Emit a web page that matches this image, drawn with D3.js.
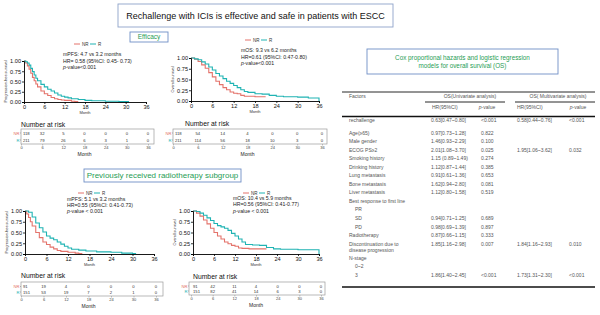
<!DOCTYPE html>
<html>
<head>
<meta charset="utf-8">
<script src="https://cdn.jsdelivr.net/npm/d3@7"></script>
<style>
  body { margin: 0; background: #fff; }
  svg { display: block; font-family: Arial, "Liberation Sans", sans-serif; }
</style>
</head>
<body>
<div id="chart"></div>
<script>
// ---- data ----
var monthTicks = [0, 6, 12, 18, 24, 30, 36];
var survTicks = [0, 0.25, 0.5, 0.75, 1];

// Kaplan-Meier steps: [month, survival]
var pfsNR = [[0,1],[0.5,0.95],[1,0.88],[1.5,0.8],[2,0.7],[2.5,0.6],[3,0.52],[3.5,0.44],[4,0.37],[5,0.27],[6,0.2],[7,0.16],[8,0.11],[9,0.08],[10,0.06],[11,0.05],[12,0.04],[14,0.02],[15,0.01],[16,0.01]];
var pfsR  = [[0,1],[0.5,0.98],[1,0.95],[1.5,0.9],[2,0.82],[2.5,0.74],[3,0.66],[3.5,0.58],[4,0.52],[5,0.43],[6,0.37],[7,0.31],[8,0.27],[9,0.22],[10,0.17],[11,0.14],[12,0.12],[13,0.1],[14,0.08],[16,0.06],[18,0.04],[20,0.03],[24,0.02],[28,0.01],[31,0.01]];
var osNR  = [[0,1],[1,0.97],[2,0.92],[3,0.84],[4,0.76],[5,0.66],[6,0.56],[7,0.46],[8,0.38],[9,0.31],[10,0.26],[11,0.21],[12,0.18],[13,0.17],[14,0.13],[15,0.11],[18,0.1],[21,0.1]];
var osR   = [[0,1],[1,0.98],[2,0.96],[3,0.91],[4,0.86],[5,0.79],[6,0.72],[7,0.64],[8,0.58],[9,0.52],[10,0.46],[11,0.41],[12,0.36],[13,0.31],[14,0.26],[15,0.22],[16,0.2],[18,0.17],[20,0.16],[22,0.13],[24,0.11],[26,0.1],[30,0.09],[33,0.07],[35.8,0.07],[36,0]];
var pfsRtNR = [[0,1],[0.5,0.93],[1,0.85],[1.5,0.75],[2,0.65],[3,0.5],[4,0.38],[5,0.28],[6,0.22],[7,0.16],[8,0.12],[9,0.08],[10,0.06],[12,0.04],[14,0.02],[15,0.01],[16,0.01]];
var pfsRtR  = [[0,1],[1,0.97],[2,0.86],[3,0.72],[4,0.61],[5,0.51],[6,0.42],[7,0.37],[8,0.33],[9,0.28],[10,0.23],[11,0.18],[12,0.14],[13,0.11],[15,0.09],[17,0.07],[20,0.05],[24,0.04],[27,0.02],[30,0.01],[31,0.01]];
var osRtNR = [[0,1],[1,0.95],[2,0.88],[3,0.79],[4,0.7],[5,0.6],[6,0.5],[7,0.42],[8,0.35],[9,0.28],[10,0.24],[11,0.2],[12,0.18],[13,0.14],[14,0.13],[16,0.12],[21,0.12]];
var osRtR  = [[0,1],[1,0.99],[2,0.95],[3,0.9],[4,0.84],[5,0.78],[6,0.71],[7,0.66],[8,0.63],[9,0.6],[10,0.55],[11,0.48],[12,0.42],[13,0.35],[14,0.28],[15,0.22],[17,0.21],[19,0.2],[21,0.15],[23,0.12],[25,0.11],[30,0.1],[35.8,0.1],[36,0]];

// numbers at risk at months 0,6,...,36
var riskPfsNR = [118, 32, 5, 0, 0, 0, 0];
var riskPfsR  = [211, 79, 26, 6, 3, 1, 0];
var riskOsNR  = [118, 54, 14, 4, 0, 0, 0];
var riskOsR   = [211, 114, 56, 18, 10, 3, 0];
var riskPfsRtNR = [91, 19, 4, 0, 0, 0, 0];
var riskPfsRtR  = [151, 53, 19, 7, 2, 1, 0];
var riskOsRtNR  = [91, 42, 11, 4, 0, 0, 0];
var riskOsRtR   = [151, 82, 41, 14, 6, 3, 0];

// Cox table
var factors = ["rechallenge", "Age(≥65)", "Male gender", "ECOG PS≥2", "Smoking history", "Drinking history",
  "Lung metastasis", "Bone metastasis", "Liver metastasis", "Best response to first line", "PR", "SD", "PD",
  "Radiotherapy", "Discontinuation due to", "disease progression", "N-stage", "0~2", "3"];
var uniHR = ["0.63[0.47~0.80]", "0.97[0.73~1.28]", "1.46[0.93~2.29]", "2.01[1.08~3.70]", "1.15 (0.89~1.49)", "1.12[0.87~1.44]",
  "0.91[0.61~1.36]", "1.62[0.94~2.80]", "1.12[0.80~1.58]", "", "", "0.94[0.71~1.25]", "0.98[0.69~1.39]",
  "0.87[0.66~1.15]", "1.85[1.16~2.98]", "", "", "", "1.86[1.40~2.45]"];
var uniP = ["<0.001", "0.822", "0.100", "0.025", "0.274", "0.385", "0.653", "0.081", "0.519", "", "", "0.689", "0.897",
  "0.333", "0.007", "", "", "", "<0.001"];
var multiHR = ["0.58[0.44~0.76]", "", "", "1.95[1.06~3.62]", "", "", "", "", "", "", "", "", "",
  "", "1.84[1.16~2.93]", "", "", "", "1.73[1.31~2.30]"];
var multiP = ["<0.001", "", "", "0.032", "", "", "", "", "", "", "", "", "",
  "", "0.010", "", "", "", "<0.001"];
var indented = ["PR", "SD", "PD", "0~2", "3"];

var colNR = "#e4736b", colR = "#1fb3b3", green = "#1f9d55", boxBlue = "#6f8fc6";

var svg = d3.select("#chart").append("svg").attr("width", 600).attr("height", 315);

// title and section boxes
function labelBox(x, y, w, h, lines, size, color, stroke) {
  svg.append("rect").attr("x", x).attr("y", y).attr("width", w).attr("height", h)
    .attr("fill", "#fff").attr("stroke", stroke).attr("stroke-width", 0.9);
  var step = size * 1.3;
  var y0 = y + h / 2 - (lines.length - 1) * step / 2 + size * 0.35;
  lines.forEach(function(t, i) {
    svg.append("text").attr("x", x + w / 2).attr("y", y0 + i * step)
      .attr("text-anchor", "middle").attr("font-size", size).attr("fill", color).text(t);
  });
}
labelBox(118, 4, 275, 23, ["Rechallenge with ICIs is effective and safe in patients with ESCC"], 9, "#111", "#8ea3c9");
labelBox(130, 32, 38, 10, ["Efficacy"], 6.5, green, boxBlue);
labelBox(84, 169, 157, 13, ["Previously received radiotherapy subgroup"], 8, green, boxBlue);
labelBox(367, 49, 191, 25, ["Cox proportional hazards and logistic regression", "models for overall survival (OS)"], 6.3, green, boxBlue);

// ---- Kaplan-Meier panel ----
function drawKM(p) {
  var x = d3.scaleLinear().domain([0, 36]).range([p.x0, p.x1]);
  var y = d3.scaleLinear().domain([0, 1]).range([p.yBot, p.yTop]);
  var g = svg.append("g");

  var line = d3.line().x(d => x(d[0])).y(d => y(d[1])).curve(d3.curveStepAfter);
  g.append("path").datum(p.nr).attr("d", line).attr("fill", "none").attr("stroke", colNR).attr("stroke-width", 1.1);
  g.append("path").datum(p.r).attr("d", line).attr("fill", "none").attr("stroke", colR).attr("stroke-width", 1.1);

  var xa = g.append("g").attr("transform", `translate(0,${p.yBot})`)
    .call(d3.axisBottom(x).tickValues(monthTicks).tickSize(2).tickPadding(1));
  var ya = g.append("g").attr("transform", `translate(${p.x0},0)`)
    .call(d3.axisLeft(y).tickValues(survTicks).tickSize(2).tickPadding(1).tickFormat(d3.format(".2f")));
  [xa, ya].forEach(function(a) {
    a.select(".domain").attr("stroke", "#000").attr("stroke-width", 0.9);
    a.selectAll(".tick line").attr("stroke", "#000").attr("stroke-width", 0.8);
    a.selectAll("text").attr("font-size", 5.6).attr("fill", "#111").attr("font-family", "Arial, sans-serif");
  });

  g.append("text").attr("x", (p.x0 + p.x1) / 2).attr("y", p.yBot + 12).attr("text-anchor", "middle")
    .attr("font-size", 4).attr("fill", "#333").text("Month");
  g.append("text").attr("transform", `translate(${p.x0 - 17},${(p.yTop + p.yBot) / 2}) rotate(-90)`)
    .attr("text-anchor", "middle").attr("font-size", 3.8).attr("fill", "#333").text(p.ylab);

  // legend
  var lx = p.lx, ly = p.ly;
  g.append("line").attr("x1", lx).attr("x2", lx + 6).attr("y1", ly).attr("y2", ly).attr("stroke", colNR).attr("stroke-width", 1);
  g.append("text").attr("x", lx + 8).attr("y", ly + 1.6).attr("font-size", 4.5).attr("fill", "#333").text("NR");
  g.append("line").attr("x1", lx + 16).attr("x2", lx + 22).attr("y1", ly).attr("y2", ly).attr("stroke", colR).attr("stroke-width", 1);
  g.append("text").attr("x", lx + 24).attr("y", ly + 1.6).attr("font-size", 4.5).attr("fill", "#333").text("R");

  // annotation
  p.notes.forEach(function(t, i) {
    var tx = g.append("text").attr("x", p.tx).attr("y", p.ty[i]).attr("font-size", 5.2).attr("fill", "#222");
    if (i === 2) {
      tx.append("tspan").attr("font-style", "italic").text("p");
      tx.append("tspan").text(t.slice(1));
    } else tx.text(t);
  });

  // risk table
  var rs = d3.scaleLinear().domain([0, 36]).range([p.rt0, p.rt1]);
  g.append("text").attr("x", p.nx).attr("y", p.ny).attr("font-size", 6.8).attr("fill", "#111").text("Number at risk");
  g.append("rect").attr("x", p.bx0).attr("y", p.by0).attr("width", p.bx1 - p.bx0).attr("height", p.by1 - p.by0)
    .attr("fill", "none").attr("stroke", "#9a9a9a").attr("stroke-width", 0.7);
  [[p.riskNR, "NR", colNR, p.ry[0]], [p.riskR, "R", colR, p.ry[1]]].forEach(function(row) {
    g.append("text").attr("x", p.bx0 - 1.5).attr("y", row[3] + 1.5).attr("text-anchor", "end")
      .attr("font-size", 4.2).attr("fill", row[2]).text(row[1]);
    g.append("line").attr("x1", p.bx0 - 1).attr("x2", p.bx0).attr("y1", row[3]).attr("y2", row[3]).attr("stroke", "#777").attr("stroke-width", 0.5);
    g.selectAll(null).data(row[0]).enter().append("text")
      .attr("x", (d, i) => i === 0 ? rs(monthTicks[i]) + 2 : rs(monthTicks[i]))
      .attr("y", row[3] + 1.5)
      .attr("text-anchor", (d, i) => i === 0 ? "start" : "middle")
      .attr("font-size", 4.2).attr("fill", "#333").text(d => d);
  });
  var ra = g.append("g").attr("transform", `translate(0,${p.by1})`)
    .call(d3.axisBottom(rs).tickValues(monthTicks).tickSize(1.5).tickPadding(1));
  ra.select(".domain").remove();
  ra.selectAll(".tick line").attr("stroke", "#888").attr("stroke-width", 0.5);
  ra.selectAll("text").attr("font-size", 4).attr("fill", "#444").attr("font-family", "Arial, sans-serif");
  g.append("text").attr("x", (p.rt0 + p.rt1) / 2).attr("y", p.by1 + 12).attr("text-anchor", "middle")
    .attr("font-size", 5).attr("fill", "#222").text("Month");
}

drawKM({ nr: pfsNR, r: pfsR, riskNR: riskPfsNR, riskR: riskPfsR, ylab: "Progression-free survival",
  x0: 24, x1: 146, yTop: 61, yBot: 102, lx: 74, ly: 44,
  notes: ["mPFS:  4.7 vs 3.2 months", "HR= 0.58  (95%CI:  0.45- 0.73)", "p-value<0.001"],
  tx: 63, ty: [56, 62.5, 69],
  nx: 21, ny: 127, bx0: 21, bx1: 154, by0: 129, by1: 144, ry: [133, 140], rt0: 21, rt1: 148 });

drawKM({ nr: osNR, r: osR, riskNR: riskOsNR, riskR: riskOsR, ylab: "Overall survival",
  x0: 191, x1: 319, yTop: 58, yBot: 101, lx: 245, ly: 40,
  notes: ["mOS:  9.3 vs 6.2 months", "HR=0.61  (95%CI:  0.47-0.80)", "p-value<0.001"],
  tx: 241, ty: [52, 58.5, 64.5],
  nx: 185, ny: 126, bx0: 173, bx1: 327, by0: 129, by1: 144, ry: [133, 140], rt0: 173, rt1: 322 });

drawKM({ nr: pfsRtNR, r: pfsRtR, riskNR: riskPfsRtNR, riskR: riskPfsRtR, ylab: "Progression-free survival",
  x0: 25, x1: 154, yTop: 211, yBot: 254, lx: 78, ly: 193,
  notes: ["mPFS:  5.1 vs 3.2 months", "HR=0.55  (95%CI:  0.41-0.73)", "p-value < 0.001"],
  tx: 67, ty: [201, 207, 213],
  nx: 21, ny: 278, bx0: 21, bx1: 163, by0: 282, by1: 296, ry: [286.5, 292], rt0: 21, rt1: 156 });

drawKM({ nr: osRtNR, r: osRtR, riskNR: riskOsRtNR, riskR: riskOsRtR, ylab: "Overall survival",
  x0: 193, x1: 319, yTop: 211, yBot: 254, lx: 243, ly: 193,
  notes: ["mOS:  10.4 vs 5.9 months", "HR=0.56  (95%CI:  0.41-0.77)", "p-value < 0.001"],
  tx: 233, ty: [200, 206, 213],
  nx: 193, ny: 279, bx0: 189, bx1: 325, by0: 282, by1: 295, ry: [286, 291], rt0: 191, rt1: 321 });

// ---- Cox regression table ----
var tg = svg.append("g").attr("font-size", 5).attr("fill", "#555");
function hline(x1, x2, yy, w) {
  tg.append("line").attr("x1", x1).attr("x2", x2).attr("y1", yy).attr("y2", yy).attr("stroke", "#111").attr("stroke-width", w);
}
hline(342, 595, 92, 0.9);
hline(425, 505, 102, 0.9);
hline(515, 595, 102, 0.9);
hline(342, 595, 116.5, 1.3);
hline(342, 595, 287, 1.5);
tg.append("text").attr("x", 349).attr("y", 97.5).text("Factors");
tg.append("text").attr("x", 470).attr("y", 97.5).attr("text-anchor", "middle").text("OS(Univariate analysis)");
tg.append("text").attr("x", 558).attr("y", 97.5).attr("text-anchor", "middle").text("OS( Multivariate analysis)");
[[432, "HR(95%CI)"], [517, "HR(95%CI)"]].forEach(function(h) {
  tg.append("text").attr("x", h[0]).attr("y", 108.5).text(h[1]);
});
[[487], [578]].forEach(function(h) {
  var t = tg.append("text").attr("x", h[0]).attr("y", 108.5).attr("text-anchor", "middle");
  t.append("tspan").attr("font-style", "italic").text("p");
  t.append("tspan").text("-value");
});

var rowY = [];
var yy = 122;
factors.forEach(function(f, i) {
  if (i === 1) yy = 134.5;
  else if (i > 1) yy += (f === "disease progression" ? 6.4 : (factors[i - 1] === "disease progression" ? 7.8 : 8.55));
  rowY.push(yy);
});
tg.selectAll(null).data(factors).enter().append("text")
  .attr("x", d => indented.indexOf(d) >= 0 ? 355 : 349)
  .attr("y", (d, i) => rowY[i]).text(d => d);
[[uniHR, 431], [uniP, 481], [multiHR, 517], [multiP, 569]].forEach(function(c) {
  tg.selectAll(null).data(c[0]).enter().append("text")
    .attr("x", c[1]).attr("y", (d, i) => rowY[i]).text(d => d);
});
</script>
</body>
</html>
